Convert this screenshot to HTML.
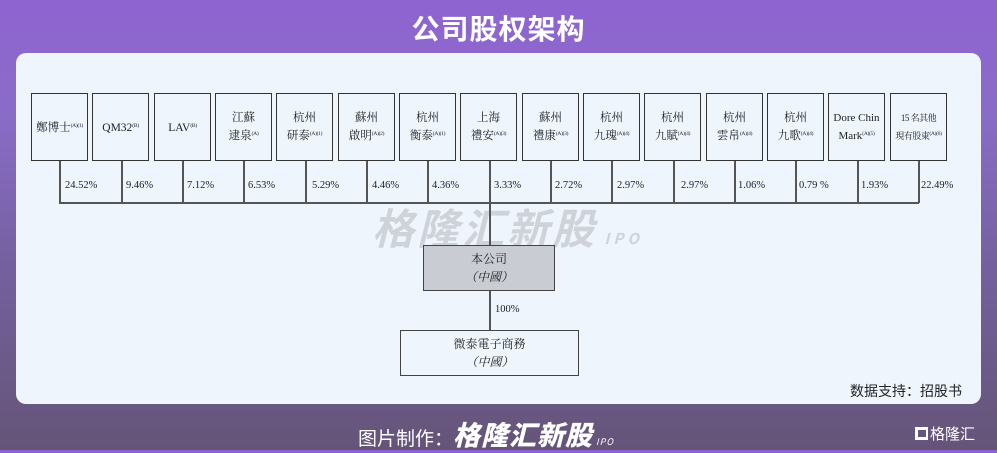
<!DOCTYPE html>
<html><head><meta charset="utf-8">
<style>
*{margin:0;padding:0;box-sizing:border-box}
body{width:997px;height:450px;overflow:hidden;position:relative;
background:linear-gradient(180deg,#8f63d1 0%,#8a6cc8 25%,#74609e 60%,#655478 100%);
font-family:"Liberation Serif","Noto Serif CJK SC",serif;}
.title{position:absolute;left:0;top:8px;width:997px;text-align:center;color:#fff;font:bold 28px "Noto Sans CJK SC",sans-serif;letter-spacing:1px}
.panel{position:absolute;left:16px;top:53px;width:965px;height:351px;background:#eef5fd;border-radius:10px}
.b{position:absolute;top:93px;width:57px;height:68px;border:1.5px solid #333;background:#eef5fd;display:flex;align-items:center;justify-content:center;color:#222}
.b div{text-align:center;font-size:11.5px;line-height:16px;white-space:nowrap}
.b sup{font-size:5.5px;vertical-align:4px;letter-spacing:-0.3px}
.l{position:absolute;background:#555}
.p{position:absolute;top:180px;font-size:10.5px;color:#222}
.wm{position:absolute;left:372px;top:196px;font:italic bold 42px "Noto Sans CJK SC",sans-serif;color:rgba(150,150,150,0.35);letter-spacing:3px;white-space:nowrap}
.wm span{font-size:15px;letter-spacing:4px}
.c{position:absolute;border:1.5px solid #444;text-align:center;font-size:12px;line-height:18px;color:#222;display:flex;flex-direction:column;justify-content:center}
.src{position:absolute;left:850px;top:381px;font:14px "Noto Sans CJK SC",sans-serif;color:#222}
.foot{position:absolute;left:358px;top:414px;color:#fff;font:19px "Noto Sans CJK SC",sans-serif;white-space:nowrap}
.foot b{font-style:italic;font-weight:900;font-size:27px;letter-spacing:1px}
.foot i{font-size:9px;letter-spacing:1px}
.logo{position:absolute;left:915px;top:423px;color:#fff;font:15px "Noto Sans CJK SC",sans-serif}
</style></head><body>
<div class="title">公司股权架构</div>
<div class="panel"></div>
<div class="wm">格隆汇新股<span> IPO</span></div>

<div class="b" style="left:31px"><div>鄭博士<sup>(A)(1)</sup></div></div>
<div class="b" style="left:92px"><div>QM32<sup>(B)</sup></div></div>
<div class="b" style="left:154px"><div>LAV<sup>(B)</sup></div></div>
<div class="b" style="left:215px"><div>江蘇<br>逮泉<sup>(A)</sup></div></div>
<div class="b" style="left:276px"><div>杭州<br>研泰<sup>(A)(1)</sup></div></div>
<div class="b" style="left:338px"><div>蘇州<br>啟明<sup>(A)(2)</sup></div></div>
<div class="b" style="left:399px"><div>杭州<br>衡泰<sup>(A)(1)</sup></div></div>
<div class="b" style="left:460px"><div>上海<br>禮安<sup>(A)(3)</sup></div></div>
<div class="b" style="left:522px"><div>蘇州<br>禮康<sup>(A)(3)</sup></div></div>
<div class="b" style="left:583px"><div>杭州<br>九瑰<sup>(A)(4)</sup></div></div>
<div class="b" style="left:644px"><div>杭州<br>九賦<sup>(A)(4)</sup></div></div>
<div class="b" style="left:706px"><div>杭州<br>雲帛<sup>(A)(4)</sup></div></div>
<div class="b" style="left:767px"><div>杭州<br>九歌<sup>(A)(4)</sup></div></div>
<div class="b" style="left:828px"><div style="font-size:11px">Dore Chin<br>Mark<sup>(A)(5)</sup></div></div>
<div class="b" style="left:890px"><div style="font-size:9px;letter-spacing:-0.5px">15 名其他<br>現有股東<sup>(A)(6)</sup></div></div>

<div class="l" style="left:59px;top:202px;width:860px;height:1.5px"></div>
<div class="l" style="left:59px;top:161px;width:1.5px;height:42px"></div>
<div class="l" style="left:121px;top:161px;width:1.5px;height:42px"></div>
<div class="l" style="left:182px;top:161px;width:1.5px;height:42px"></div>
<div class="l" style="left:243px;top:161px;width:1.5px;height:42px"></div>
<div class="l" style="left:305px;top:161px;width:1.5px;height:42px"></div>
<div class="l" style="left:366px;top:161px;width:1.5px;height:42px"></div>
<div class="l" style="left:427px;top:161px;width:1.5px;height:42px"></div>
<div class="l" style="left:489px;top:161px;width:1.5px;height:84px"></div>
<div class="l" style="left:550px;top:161px;width:1.5px;height:42px"></div>
<div class="l" style="left:611px;top:161px;width:1.5px;height:42px"></div>
<div class="l" style="left:673px;top:161px;width:1.5px;height:42px"></div>
<div class="l" style="left:734px;top:161px;width:1.5px;height:42px"></div>
<div class="l" style="left:795px;top:161px;width:1.5px;height:42px"></div>
<div class="l" style="left:857px;top:161px;width:1.5px;height:42px"></div>
<div class="l" style="left:918px;top:161px;width:1.5px;height:42px"></div>

<div class="p" style="left:65px">24.52%</div>
<div class="p" style="left:126px">9.46%</div>
<div class="p" style="left:187px">7.12%</div>
<div class="p" style="left:248px">6.53%</div>
<div class="p" style="left:312px">5.29%</div>
<div class="p" style="left:372px">4.46%</div>
<div class="p" style="left:432px">4.36%</div>
<div class="p" style="left:494px">3.33%</div>
<div class="p" style="left:555px">2.72%</div>
<div class="p" style="left:617px">2.97%</div>
<div class="p" style="left:681px">2.97%</div>
<div class="p" style="left:738px">1.06%</div>
<div class="p" style="left:799px">0.79 %</div>
<div class="p" style="left:861px">1.93%</div>
<div class="p" style="left:921px">22.49%</div>

<div class="c" style="left:423px;top:245px;width:132px;height:46px;background:#c9ccd2">本公司<br><span style="font-style:italic">（中國）</span></div>
<div class="l" style="left:489px;top:291px;width:1.5px;height:40px"></div>
<div class="p" style="left:495px;top:304px">100%</div>
<div class="c" style="left:400px;top:330px;width:179px;height:46px;background:#eef5fd">微泰電子商務<br><span style="font-style:italic">（中國）</span></div>

<div class="src">数据支持：招股书</div>
<div class="foot">图片制作：<b>格隆汇新股</b><i> IPO</i></div>
<div class="logo"><span style="display:inline-block;width:13px;height:13px;border:3px solid #fff;border-right-width:2px;vertical-align:-1px;margin-right:2px"></span>格隆汇</div>
</body></html>
